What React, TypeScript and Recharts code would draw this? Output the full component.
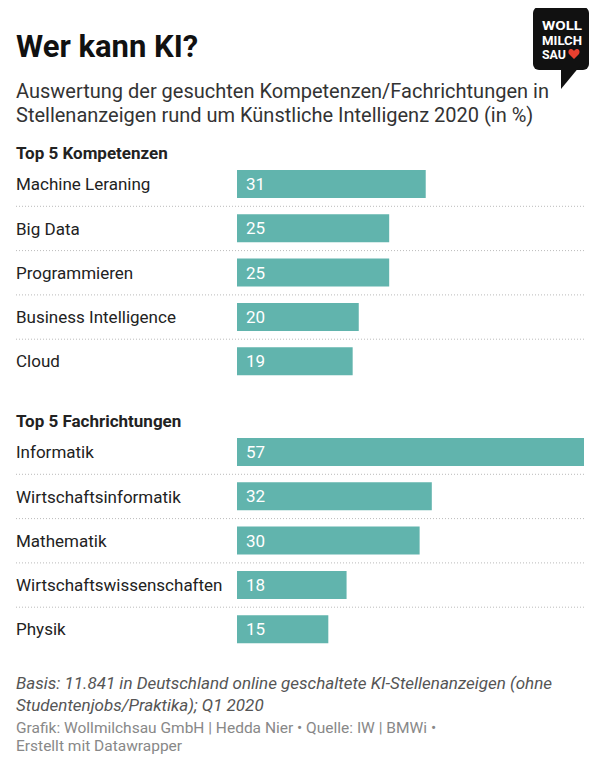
import React from 'react';
import { Bar, BarChart, CartesianGrid, LabelList, XAxis, YAxis } from 'recharts';

const kompetenzen = ['Machine Leraning', 'Big Data', 'Programmieren', 'Business Intelligence', 'Cloud'];
const kompetenzenWerte = [31, 25, 25, 20, 19];

const fachrichtungen = ['Informatik', 'Wirtschaftsinformatik', 'Mathematik', 'Wirtschaftswissenschaften', 'Physik'];
const fachrichtungenWerte = [57, 32, 30, 18, 15];

const maxWert = 57;

const FONT = 'Roboto, "Noto Sans", sans-serif';
const BAR_COLOR = '#61b4ad';

const LabelTick = (props: any) => {
    const { y, payload } = props;
    return (
        <text x={16} y={y} dy="0.36em" textAnchor="start" fontSize={17} fill="#222" fontFamily={FONT}>
            {payload.value}
        </text>
    );
};

function Gruppe({ names, values, top }: { names: string[]; values: number[]; top: number }) {
    const data = names.map((name, i) => ({ name, value: values[i] }));
    const rowHeight = 44.3;
    const height = rowHeight * names.length;

    return (
        <div style={{ position: 'absolute', left: 0, top }}>
            <BarChart
                width={600}
                height={height}
                data={data}
                layout="vertical"
                margin={{ top: 0, right: 16, bottom: 0, left: 16 }}
                barCategoryGap={0}
            >
                <CartesianGrid
                    vertical={false}
                    x={16}
                    width={568}
                    stroke="#bbb"
                    strokeDasharray="1 2"
                    horizontalCoordinatesGenerator={({ yAxis, offset }: any) => {
                        const s = yAxis && yAxis.scale;
                        if (s && typeof s === 'function') {
                            return names.slice(1).map(n => s(n));
                        }
                        return names.slice(1).map((_, i) => offset.top + ((i + 1) * offset.height) / names.length);
                    }}
                />
                <XAxis type="number" domain={[0, maxWert]} hide />
                <YAxis
                    type="category"
                    dataKey="name"
                    width={221}
                    axisLine={false}
                    tickLine={false}
                    tick={<LabelTick />}
                    interval={0}
                />
                <Bar dataKey="value" fill={BAR_COLOR} barSize={28} isAnimationActive={false}>
                    <LabelList dataKey="value" position="insideLeft" offset={9} fill="#fff" fontSize={17} fontFamily={FONT} />
                </Bar>
            </BarChart>
        </div>
    );
}

function Logo() {
    return (
        <svg width={60} height={90} style={{ position: 'absolute', left: 532, top: 6 }}>
            <rect x={1} y={1} width={56} height={63} rx={6} fill="#111" />
            <path d="M 29 60 L 29 83 L 48 60 Z" fill="#111" />
            <g fill="#fff" fontFamily={FONT} fontWeight={700} fontSize={13.5}>
                <text x={10} y={24} textLength={40} lengthAdjust="spacingAndGlyphs">WOLL</text>
                <text x={10} y={38.5} textLength={40} lengthAdjust="spacingAndGlyphs">MILCH</text>
                <text x={10} y={53} textLength={24} lengthAdjust="spacingAndGlyphs">SAU</text>
            </g>
            <path
                d="M 42 45 C 39 41, 35 44, 37 48 L 42 53 L 47 48 C 49 44, 45 41, 42 45 Z"
                fill="#e8402f"
            />
        </svg>
    );
}

export default function App() {
    return (
        <div
            style={{
                position: 'relative',
                width: 600,
                height: 764,
                margin: -8,
                background: '#fff',
                fontFamily: FONT,
                overflow: 'hidden',
            }}
        >
            <div style={{ position: 'absolute', left: 16, top: 28.5, fontSize: 31, lineHeight: '36px', fontWeight: 700, color: '#111' }}>
                Wer kann KI?
            </div>
            <Logo />
            <div style={{ position: 'absolute', left: 16, top: 78.5, fontSize: 20, lineHeight: '24px', color: '#333', whiteSpace: 'nowrap' }}>
                Auswertung der gesuchten Kompetenzen/Fachrichtungen in
                <br />
                Stellenanzeigen rund um Künstliche Intelligenz 2020 (in %)
            </div>

            <div style={{ position: 'absolute', left: 16, top: 142.5, fontSize: 17, lineHeight: '20px', fontWeight: 700, color: '#222' }}>
                Top 5 Kompetenzen
            </div>
            <Gruppe names={kompetenzen} values={kompetenzenWerte} top={162} />

            <div style={{ position: 'absolute', left: 16, top: 410.5, fontSize: 17, lineHeight: '20px', fontWeight: 700, color: '#222' }}>
                Top 5 Fachrichtungen
            </div>
            <Gruppe names={fachrichtungen} values={fachrichtungenWerte} top={430} />

            <div style={{ position: 'absolute', left: 16, top: 672, fontSize: 17, lineHeight: '22px', fontStyle: 'italic', color: '#555', whiteSpace: 'nowrap' }}>
                Basis: 11.841 in Deutschland online geschaltete KI-Stellenanzeigen (ohne
                <br />
                Studentenjobs/Praktika); Q1 2020
            </div>
            <div style={{ position: 'absolute', left: 16, top: 719, fontSize: 15.5, lineHeight: '18px', color: '#888', whiteSpace: 'nowrap' }}>
                Grafik: Wollmilchsau GmbH | Hedda Nier • Quelle: IW | BMWi •
                <br />
                Erstellt mit Datawrapper
            </div>
        </div>
    );
}
